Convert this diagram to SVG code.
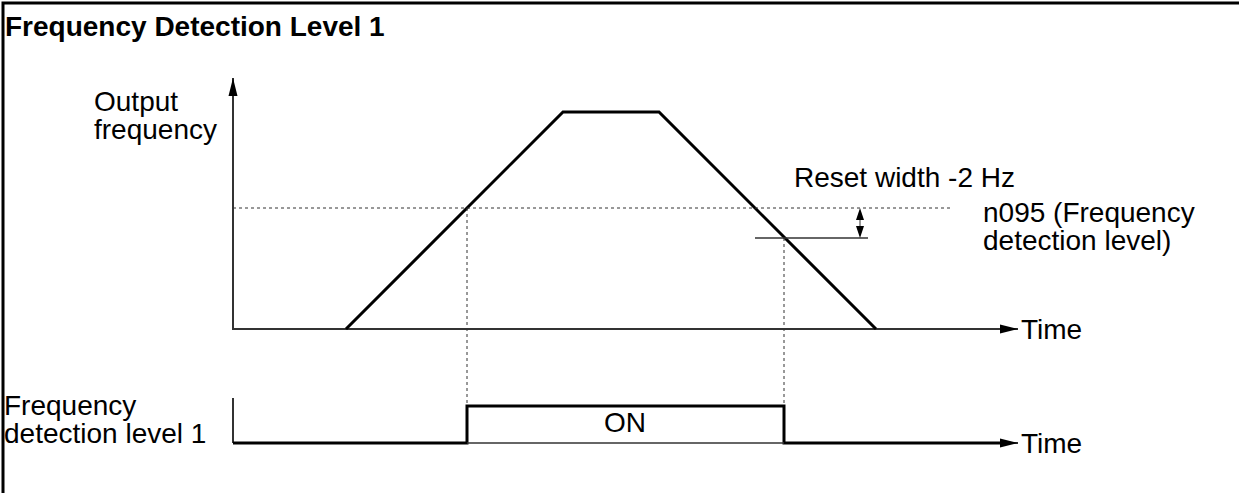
<svg xmlns="http://www.w3.org/2000/svg" width="1239" height="493" viewBox="0 0 1239 493">
<defs>
<style>
text{font-family:"Liberation Sans",Arial,sans-serif;font-size:28px;fill:#000}
.title{font-weight:bold;font-size:28px}
.axis{stroke:#333;stroke-width:2;fill:none}
.sig{stroke:#000;stroke-width:3;fill:none;stroke-linejoin:miter}
.dot{stroke:#333;stroke-width:1;stroke-dasharray:3 3;fill:none}
.thin{stroke:#333;stroke-width:1.5;fill:none}
</style>
<marker id="ahL" viewBox="0 0 20 10" refX="20" refY="5" markerWidth="18" markerHeight="11" markerUnits="userSpaceOnUse" orient="auto"><path d="M0,0 L20,5 L0,10 z" fill="#000"/></marker>
</defs>
<g id="frame"><path d="M1239,3 H3 V493" stroke="#000" stroke-width="3" fill="none"/></g>
<g id="title"><text class="title" x="5" y="36">Frequency Detection Level 1</text></g>
<g id="labels">
<text x="94" y="111">Output</text>
<text x="94" y="139">frequency</text>
<text x="794" y="187">Reset width -2 Hz</text>
<text x="983" y="222">n095 (Frequency</text>
<text x="983" y="250">detection level)</text>
<text x="1021" y="339">Time</text>
<text x="4" y="415">Frequency</text>
<text x="4" y="443">detection level 1</text>
<text x="1021" y="453">Time</text>
<text x="625" y="432" text-anchor="middle" font-size="20">ON</text>
</g>
<g id="connectors">
<line class="axis" x1="233" y1="330" x2="233" y2="78" marker-end="url(#ahL)"/>
<line class="axis" x1="233" y1="329" x2="1018" y2="329" marker-end="url(#ahL)"/>
<polyline class="sig" points="346,329 563,112 659,112 876,329"/>
<line class="dot" x1="233" y1="208" x2="952" y2="208"/>
<line class="thin" x1="755" y1="238" x2="868" y2="238"/>
<line stroke="#333" stroke-width="1" x1="860" y1="219" x2="860" y2="227"/>
<path d="M860,208 L856,220 L864,220 z M860,238 L856,226 L864,226 z" fill="#000"/>
<line class="dot" x1="467" y1="208" x2="467" y2="406"/>
<line class="dot" x1="784" y1="238" x2="784" y2="406"/>
<line class="axis" x1="233" y1="398" x2="233" y2="443"/>
<polyline class="sig" points="233,443 467,443 467,406 784,406 784,443 1003,443"/>
<line class="axis" x1="1000" y1="443" x2="1018" y2="443" marker-end="url(#ahL)"/>
<line class="thin" x1="467" y1="443" x2="784" y2="443"/>
</g>
</svg>
